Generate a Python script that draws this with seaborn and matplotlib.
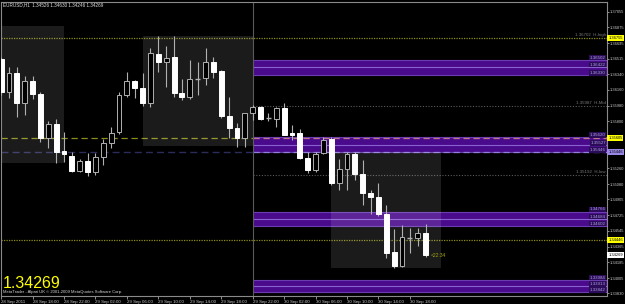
import numpy as np
import pandas as pd
import matplotlib
matplotlib.use("Agg")
import matplotlib.pyplot as plt
import matplotlib.transforms as mtransforms
from matplotlib.patches import Rectangle
import seaborn as sns

# ---------------- data ----------------
hours = list(range(-32, 23))  # hour offset from 29 Sep 22:00
opens = [1.36513, 1.36136, 1.36353, 1.36010, 1.36262, 1.36113, 1.35609, 1.35769,
         1.35460, 1.35403, 1.35231, 1.35346, 1.35220, 1.35391, 1.35552, 1.35678,
         1.36101, 1.36262, 1.36181, 1.36010, 1.36571, 1.36479, 1.36536, 1.36124,
         1.36078, 1.36284, 1.36296, 1.36479, 1.36376, 1.35861, 1.35723, 1.35609,
         1.35895, 1.35964, 1.35838, 1.35826, 1.35952, 1.35666, 1.35666, 1.35380,
         1.35243, 1.35437, 1.35597, 1.35094, 1.35254, 1.35426, 1.35197, 1.34979,
         1.34933, 1.34739, 1.34304, 1.34143, 1.34464, 1.34464, 1.34526]
highs = [1.36536, 1.36422, 1.36422, 1.36319, 1.36319, 1.36136, 1.35804, 1.35826,
         1.35678, 1.35449, 1.35368, 1.35437, 1.35437, 1.35597, 1.35735, 1.36136,
         1.36365, 1.36273, 1.36353, 1.36639, 1.36777, 1.36662, 1.36777, 1.36284,
         1.36502, 1.36479, 1.36639, 1.36536, 1.36388, 1.36078, 1.35781, 1.35895,
         1.35987, 1.35975, 1.35895, 1.35964, 1.36010, 1.35758, 1.35712, 1.35449,
         1.35449, 1.35620, 1.35620, 1.35368, 1.35449, 1.35449, 1.35357, 1.35014,
         1.35094, 1.34842, 1.34567, 1.34613, 1.34578, 1.34578, 1.34630]
lows = [1.36101, 1.36067, 1.35849, 1.35872, 1.36055, 1.35563, 1.35494, 1.35323,
        1.35334, 1.35220, 1.35220, 1.35174, 1.35185, 1.35300, 1.35494, 1.35655,
        1.36078, 1.36067, 1.35975, 1.35964, 1.36365, 1.36193, 1.36078, 1.36044,
        1.36055, 1.36101, 1.36216, 1.36296, 1.35838, 1.35609, 1.35506, 1.35506,
        1.35815, 1.35815, 1.35804, 1.35735, 1.35643, 1.35586, 1.35368, 1.35208,
        1.35220, 1.35426, 1.35071, 1.35014, 1.35014, 1.35128, 1.34842, 1.34739,
        1.34716, 1.34235, 1.34120, 1.34132, 1.34292, 1.34372, 1.34246]
closes = [1.36136, 1.36353, 1.36010, 1.36262, 1.36113, 1.35609, 1.35769, 1.35449,
          1.35426, 1.35231, 1.35346, 1.35220, 1.35391, 1.35552, 1.35666, 1.36101,
          1.36262, 1.36181, 1.36010, 1.36582, 1.36479, 1.36525, 1.36124, 1.36078,
          1.36284, 1.36280, 1.36479, 1.36365, 1.35861, 1.35723, 1.35609, 1.35895,
          1.35964, 1.35826, 1.35836, 1.35952, 1.35643, 1.35643, 1.35380, 1.35243,
          1.35426, 1.35586, 1.35094, 1.35254, 1.35426, 1.35197, 1.34979, 1.34933,
          1.34739, 1.34292, 1.34143, 1.34475, 1.34462, 1.34521, 1.34269]

# zones (purple bands) : top, middle, bottom
band_tops = [1.36502, 1.35620, 1.34766, 1.33984]
band_mids = [1.36422, 1.35527, 1.34684, 1.33913]
band_bots = [1.36330, 1.35446, 1.34602, 1.33842]

# session boxes: (start hour, end hour, high, low)
box_start = [-33.0, -14.0, 10.0]
box_end = [-24.0, 0.0, 24.0]
box_high = [1.36891, 1.36777, 1.35449]
box_low = [1.35323, 1.35517, 1.34120]

h_high_line = 1.36755
h_mid_line = 1.35979
h_low_line = 1.35185
dash_yellow = 1.35605
dash_navy = 1.35446
dot_olive = 1.34446
bid = 1.34269

ytick_vals = [1.37055, 1.36875, 1.36695, 1.36515, 1.36340, 1.36160, 1.35980,
              1.35800, 1.35620, 1.35440, 1.35260, 1.35080, 1.34905, 1.34725,
              1.34545, 1.34365, 1.34185, 1.34005, 1.33830]
# tick labels hidden under the coloured price boxes in the reference
ytick_hidden = [1.35620, 1.35440]
xtick_hours = [-32, -28, -24, -20, -16, -12, -8, -4, 0, 4, 8, 12, 16, 20]
xtick_labels = ["28 Sep 2011", "28 Sep 18:00", "28 Sep 22:00", "29 Sep 02:00",
                "29 Sep 06:00", "29 Sep 10:00", "29 Sep 14:00", "29 Sep 18:00",
                "29 Sep 22:00", "30 Sep 02:00", "30 Sep 06:00", "30 Sep 10:00",
                "30 Sep 14:00", "30 Sep 18:00"]

df = pd.DataFrame({"hour": hours, "open": opens, "high": highs,
                   "low": lows, "close": closes})

# ---------------- style ----------------
sns.set_theme(style="dark")
plt.rcParams["font.family"] = ["Liberation Sans", "DejaVu Sans"]

fig = plt.figure(figsize=(6.25, 3.04), dpi=100)
fig.patch.set_facecolor("#000000")
ax = fig.add_axes([1 / 625, 8 / 304, 606 / 625, 294 / 304])
ax.set_facecolor("#000000")

XMIN, XMAX = -32.02, 45.08
YMIN, YMAX = 1.33800, 1.37166
ax.set_xlim(XMIN, XMAX)
ax.set_ylim(YMIN, YMAX)

# purple bands (right of separator)
for t, m, b in zip(band_tops, band_mids, band_bots):
    ax.add_patch(Rectangle((0, b), XMAX, t - b, facecolor="#4a0a8c",
                           edgecolor="none", zorder=1))
    ax.hlines([t, b], 0, XMAX, colors="#6a3cb0", linewidth=0.8, zorder=1.2)
    ax.hlines(m, 0, XMAX, colors="#8a62d0", linewidth=0.8, zorder=1.2)

# lines
ax.hlines(h_high_line, XMIN, XMAX, colors="#8c8c1a", linestyles=(0, (1, 1)),
          linewidth=0.9, zorder=1.5)
ax.hlines(dot_olive, XMIN, XMAX, colors="#8c8c1a", linestyles=(0, (1, 1)),
          linewidth=0.9, zorder=1.5)
ax.hlines([h_mid_line, h_low_line], 0, XMAX, colors="#5a5a5a",
          linestyles=(0, (1, 1.5)), linewidth=0.8, zorder=1.5)
ax.hlines(dash_yellow, XMIN, 0, colors="#8c8c1a", linestyles=(0, (5, 3)),
          linewidth=0.9, zorder=1.5)
ax.hlines(dash_yellow, 0, XMAX, colors="#c07888", linestyles=(0, (5, 3)),
          linewidth=0.9, zorder=1.5)
ax.hlines(dash_navy, XMIN, 0, colors="#2c2c5c", linestyles=(0, (5, 3)),
          linewidth=1.0, zorder=1.5)
ax.hlines(dash_navy, 0, XMAX, colors="#9080d8", linestyles=(0, (5, 3)),
          linewidth=0.9, zorder=1.6)

# session boxes (translucent grey)
for s, e, hi, lo in zip(box_start, box_end, box_high, box_low):
    ax.add_patch(Rectangle((s, lo), e - s, hi - lo, facecolor="#ffffff",
                           alpha=0.11, edgecolor="none", zorder=2))

# separator
ax.axvline(0, color="#5a5a5a", linewidth=0.8, zorder=2.2)

# candles
w = 0.62
wick_col = "#b0b0b0"
ax.vlines(df["hour"], df["low"], df["high"], colors=wick_col, linewidth=0.8,
          zorder=3)
for _, r in df.iterrows():
    lo_b = min(r["open"], r["close"])
    hgt = abs(r["close"] - r["open"])
    if hgt < 0.00006:
        ax.hlines(r["open"], r["hour"] - w / 2, r["hour"] + w / 2,
                  colors=wick_col, linewidth=1.0, zorder=4)
        continue
    bear = r["close"] < r["open"]
    ax.add_patch(Rectangle((r["hour"] - w / 2, lo_b), w, hgt,
                           facecolor="#ffffff" if bear else "#000000",
                           edgecolor="#ffffff" if bear else wick_col,
                           linewidth=0.7, zorder=4))

# text labels inside chart
fs = 3.2
xr = XMAX - 0.15
ax.text(xr, h_high_line + 0.00012, "1.36702  H-high", color="#7a7a7a",
        fontsize=fs, ha="right", va="bottom", zorder=5)
ax.text(xr, h_mid_line + 0.00012, "1.35987  H-Mid", color="#7a7a7a",
        fontsize=fs, ha="right", va="bottom", zorder=5)
ax.text(xr, h_low_line + 0.00012, "1.35192  H-low", color="#7a7a7a",
        fontsize=fs, ha="right", va="bottom", zorder=5)
for vals in (band_tops, band_mids, band_bots):
    for v in vals:
        ax.text(xr, v + 0.00002, f"{v:.5f}", color="#b0a0e0", fontsize=fs,
                ha="right", va="bottom", zorder=6,
                bbox=dict(boxstyle="square,pad=0.15", facecolor="#2a0c58",
                          edgecolor="none"))
ax.text(22.7, bid, "<22:34", color="#a0a010", fontsize=3.6, ha="left",
        va="center", zorder=6)

# axes styling
for sp in ax.spines.values():
    sp.set_color("#8a8a8a")
    sp.set_linewidth(0.8)
ax.yaxis.tick_right()
ax.set_yticks(ytick_vals)
ax.set_yticklabels(["" if v in ytick_hidden else f"{v:.5f}" for v in ytick_vals])
ax.set_xticks(xtick_hours)
ax.set_xticklabels(xtick_labels, ha="left")
ax.tick_params(axis="y", colors="#c8c8c8", labelsize=2.9, length=1.5,
               width=0.5, pad=0.8, right=True, left=False)
ax.tick_params(axis="x", colors="#c8c8c8", labelsize=3.2, length=2,
               width=0.5, pad=0.8, bottom=True)
ax.grid(False)
ax.set_xlabel("")
ax.set_ylabel("")

# coloured price labels on the right axis
trans = mtransforms.blended_transform_factory(ax.transAxes, ax.transData)
axis_boxes = [(h_high_line, "#ffff00", "#000000"),
              (dash_yellow, "#ffff00", "#000000"),
              (dash_navy, "#9a88e8", "#000000"),
              (dot_olive, "#ffff00", "#000000"),
              (bid, "#ffffff", "#000000")]
for v, fc, tc in axis_boxes:
    ax.text(1.002, v, f"{v:.5f}", transform=trans, color=tc, fontsize=2.9,
            ha="left", va="center", zorder=10, clip_on=False,
            bbox=dict(boxstyle="square,pad=0.25", facecolor=fc,
                      edgecolor="none"))

# title and corner texts
fig.text(3 / 625, 1 - 5 / 304, "EURUSD,H1  1.34526 1.34630 1.34246 1.34269",
         color="#e0e0e0", fontsize=3.3, ha="left", va="center")
fig.text(3 / 625, 1 - 287.5 / 304, f"{bid:.5f}", color="#ffff00",
         fontsize=11.5, ha="left", va="baseline")
fig.text(3 / 625, 1 - 291.5 / 304,
         "MetaTrader - Alpari UK \u00a9 2001-2009 MetaQuotes Software Corp.",
         color="#d8d8d8", fontsize=3.0, ha="left", va="center")

fig.savefig("out.png", dpi=100, facecolor=fig.get_facecolor())
